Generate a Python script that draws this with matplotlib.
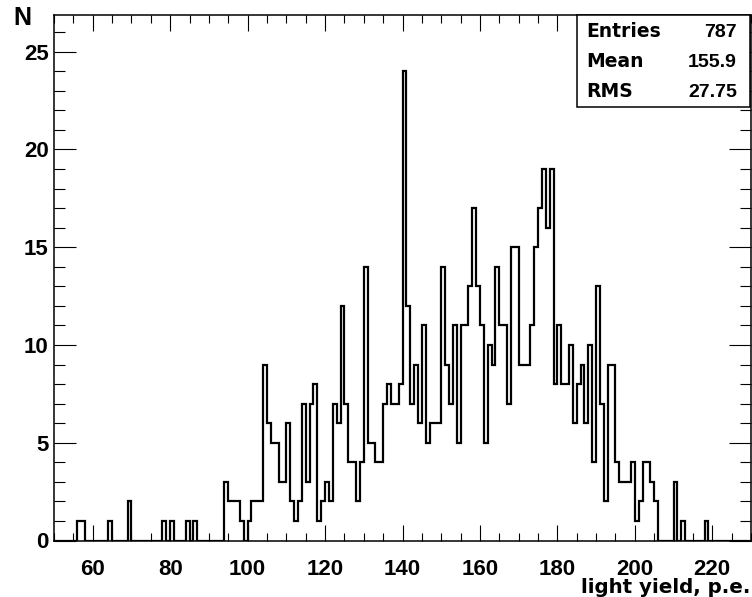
"""
Light-yield histogram (ROOT style look) rebuilt with matplotlib.
Output: out.png (752x597)
"""

import numpy as np
import matplotlib.pyplot as plt
from matplotlib.ticker import MultipleLocator
from matplotlib.patches import Rectangle

# ── Data ──────────────────────────────────────────────────────────────
x_lo, x_hi = 50, 230          # histogram range, 1 p.e. per bin
y_top = 26.9

counts = [
    0, 0, 0, 0, 0, 0, 1, 1, 0, 0,        # 50-59
    0, 0, 0, 0, 1, 0, 0, 0, 0, 2,        # 60-69
    0, 0, 0, 0, 0, 0, 0, 0, 1, 0,        # 70-79
    1, 0, 0, 0, 1, 0, 1, 0, 0, 0,        # 80-89
    0, 0, 0, 0, 3, 2, 2, 2, 1, 0,        # 90-99
    1, 2, 2, 2, 9, 6, 5, 5, 3, 3,        # 100-109
    6, 2, 1, 2, 7, 3, 7, 8, 1, 2,        # 110-119
    3, 2, 7, 6, 12, 7, 4, 4, 2, 4,       # 120-129
    14, 5, 5, 4, 4, 7, 8, 7, 7, 8,       # 130-139
    24, 12, 7, 9, 6, 11, 5, 6, 6, 6,     # 140-149
    14, 9, 7, 11, 5, 11, 11, 13, 17, 13, # 150-159
    11, 5, 10, 9, 14, 11, 11, 7, 15, 15, # 160-169
    9, 9, 9, 11, 15, 17, 19, 16, 19, 8,  # 170-179
    11, 8, 8, 10, 6, 8, 9, 6, 10, 4,     # 180-189
    13, 7, 2, 9, 9, 4, 3, 3, 3, 4,       # 190-199
    1, 2, 4, 4, 3, 2, 0, 0, 0, 0,        # 200-209
    3, 0, 1, 0, 0, 0, 0, 0, 1, 0,        # 210-219
    0, 0, 0, 0, 0, 0, 0, 0, 0, 0,        # 220-229
]

stat_names = ["Entries", "Mean", "RMS"]
stat_values = ["787", "155.9", "27.75"]

x_title = "light yield, p.e."
y_title = "N"

# ── Figure ────────────────────────────────────────────────────────────
W, H = 752, 597
fig = plt.figure(figsize=(W / 100, H / 100), dpi=100, facecolor="white")
ax = fig.add_axes([54 / W, 56.5 / H, 697 / W, 526 / H])

edges = np.arange(x_lo, x_hi + 1)
ax.stairs(counts, edges, color="black", linewidth=1.6, baseline=0,
          joinstyle="miter")

ax.set_xlim(x_lo, x_hi)
ax.set_ylim(0, y_top)

# ticks inside, on all four sides
ax.xaxis.set_major_locator(MultipleLocator(20))
ax.xaxis.set_minor_locator(MultipleLocator(5))
ax.yaxis.set_major_locator(MultipleLocator(5))
ax.yaxis.set_minor_locator(MultipleLocator(1))
ax.tick_params(axis="x", which="major", direction="in", length=11.5, width=0.8,
               top=True, pad=13.0)
ax.tick_params(axis="x", which="minor", direction="in", length=5.8, width=0.8,
               top=True)
ax.tick_params(axis="y", which="major", direction="in", length=15.5, width=0.8,
               right=True, pad=3.8)
ax.tick_params(axis="y", which="minor", direction="in", length=8, width=0.8,
               right=True)
for lab in ax.get_xticklabels() + ax.get_yticklabels():
    lab.set_fontfamily("Liberation Sans")
    lab.set_fontweight("bold")
    lab.set_fontsize(16)
for sp in ax.spines.values():
    sp.set_linewidth(1.1)

# axis titles
fig.text(750 / W, 1 - 593 / H, x_title, ha="right", va="baseline",
         fontfamily="DejaVu Sans", fontweight="bold", fontsize=14.3)
fig.text(13 / W, 1 - 25 / H, y_title, ha="left", va="baseline",
         fontfamily="Liberation Sans", fontweight="bold", fontsize=18)

# ── Stats box ─────────────────────────────────────────────────────────
bx0, bx1 = 577 / W, 750 / W
by0, by1 = 1 - 107 / H, 1 - 14.5 / H
fig.patches.append(Rectangle((bx0, by0), bx1 - bx0, by1 - by0,
                             transform=fig.transFigure, facecolor="white",
                             edgecolor="black", linewidth=1.1, zorder=5))
row_y = [37, 67, 97]
for name, val, yy in zip(stat_names, stat_values, row_y):
    fig.text(586 / W, 1 - yy / H, name, ha="left", va="baseline",
             fontfamily="DejaVu Sans", fontweight="bold", fontsize=13.5, zorder=6)
    fig.text(737 / W, 1 - yy / H, val, ha="right", va="baseline",
             fontfamily="Liberation Sans", fontweight="bold", fontsize=14, zorder=6)

fig.savefig("out.png", dpi=100, facecolor="white")
plt.close(fig)
